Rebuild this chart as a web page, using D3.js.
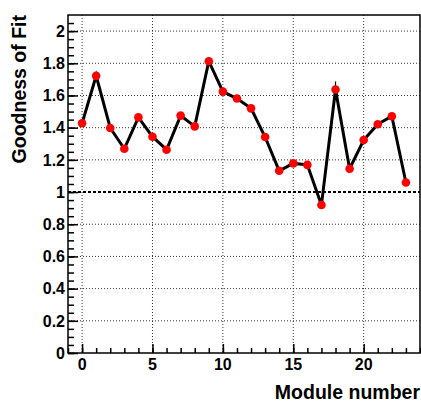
<!DOCTYPE html>
<html>
<head>
<meta charset="utf-8">
<script src="https://cdn.jsdelivr.net/npm/d3@7"></script>
<style>
  body { margin: 0; background: #fff; }
  svg { display: block; }
</style>
</head>
<body>
<div id="gof"></div>
<script>
// data
var modules = [0, 1, 2, 3, 4, 5, 6, 7, 8, 9, 10, 11, 12, 13, 14, 15, 16, 17, 18, 19, 20, 21, 22, 23];
var fitValues = [1.427, 1.722, 1.398, 1.269, 1.464, 1.344, 1.263, 1.475, 1.408, 1.813, 1.624, 1.581,
                 1.520, 1.342, 1.132, 1.178, 1.169, 0.920, 1.637, 1.145, 1.323, 1.421, 1.471, 1.059];
var fitErrors = [0.02, 0.02, 0.02, 0.02, 0.02, 0.02, 0.02, 0.02, 0.02, 0.02, 0.02, 0.02,
                 0.02, 0.02, 0.02, 0.02, 0.02, 0.02, 0.05, 0.02, 0.02, 0.02, 0.02, 0.02];
var xTicks = [0, 5, 10, 15, 20];
var yTicks = [0, 0.2, 0.4, 0.6, 0.8, 1, 1.2, 1.4, 1.6, 1.8, 2];

// set the dimensions and margins of the graph
var W = 421, H = 403;
var margin = { top: 15, right: 1, bottom: 50, left: 68 },
    width = W - margin.left - margin.right,
    height = H - margin.top - margin.bottom;

var svg = d3.select("#gof")
    .append("svg")
    .attr("width", W)
    .attr("height", H)
    .append("g")
    .attr("transform", "translate(" + margin.left + "," + margin.top + ")");

var font = "'Liberation Sans', Arial, Helvetica, sans-serif";

var x = d3.scaleLinear().domain([-1, 24]).range([0, width]);
var y = d3.scaleLinear().domain([0, 2.1]).range([height, 0]);

// grid
svg.append("g")
    .selectAll("line")
    .data(xTicks)
    .enter().append("line")
    .attr("x1", function (d) { return x(d); })
    .attr("x2", function (d) { return x(d); })
    .attr("y1", 0)
    .attr("y2", height)
    .attr("stroke", "#333")
    .attr("stroke-width", 1)
    .attr("stroke-dasharray", "1,2");

svg.append("g")
    .selectAll("line")
    .data(yTicks.filter(function (d) { return d > 0 && d !== 1; }))
    .enter().append("line")
    .attr("x1", 0)
    .attr("x2", width)
    .attr("y1", function (d) { return y(d); })
    .attr("y2", function (d) { return y(d); })
    .attr("stroke", "#333")
    .attr("stroke-width", 1)
    .attr("stroke-dasharray", "1,2");

// dashed reference line at 1
svg.append("line")
    .attr("x1", 0)
    .attr("x2", width)
    .attr("y1", y(1))
    .attr("y2", y(1))
    .attr("stroke", "#000")
    .attr("stroke-width", 2)
    .attr("stroke-dasharray", "3,2");

// frame
svg.append("rect")
    .attr("x", 0)
    .attr("y", 0)
    .attr("width", width)
    .attr("height", height)
    .attr("fill", "none")
    .attr("stroke", "#000")
    .attr("stroke-width", 1.5);

// Y axis (ticks pointing inside)
var yAxis = svg.append("g")
    .call(d3.axisRight(y).tickValues(yTicks).tickSize(10).tickFormat(""));
yAxis.select(".domain").remove();
yAxis.selectAll("line").attr("stroke-width", 1.5);

svg.append("g")
    .call(d3.axisRight(y).tickValues(d3.range(0, 2.1, 0.05)).tickSize(6).tickFormat(""))
    .call(function (g) { g.select(".domain").remove(); })
    .selectAll("line").attr("stroke-width", 1.5);

svg.append("g")
    .selectAll("text")
    .data(yTicks)
    .enter().append("text")
    .attr("x", -3)
    .attr("y", function (d) { return y(d); })
    .attr("dy", "0.36em")
    .attr("text-anchor", "end")
    .style("font-family", font)
    .style("font-weight", "bold")
    .style("font-size", "16px")
    .text(function (d) { return d3.format("")(+d.toFixed(1)); });

// X axis (ticks pointing up)
var xAxis = svg.append("g")
    .attr("transform", "translate(0," + height + ")")
    .call(d3.axisTop(x).tickValues(xTicks).tickSize(9).tickFormat(""));
xAxis.select(".domain").remove();
xAxis.selectAll("line").attr("stroke-width", 1.5);

svg.append("g")
    .attr("transform", "translate(0," + height + ")")
    .call(d3.axisTop(x).tickValues(d3.range(-1, 25, 1)).tickSize(5).tickFormat(""))
    .call(function (g) { g.select(".domain").remove(); })
    .selectAll("line").attr("stroke-width", 1.5);

svg.append("g")
    .selectAll("text")
    .data(xTicks)
    .enter().append("text")
    .attr("x", function (d) { return x(d); })
    .attr("y", height + 17)
    .attr("text-anchor", "middle")
    .style("font-family", font)
    .style("font-weight", "bold")
    .style("font-size", "16px")
    .text(function (d) { return d; });

// axis titles
svg.append("text")
    .text("Module number")
    .attr("x", width)
    .attr("y", height + 46)
    .attr("text-anchor", "end")
    .style("font-family", font)
    .style("font-weight", "bold")
    .style("font-size", "19.5px");

svg.append("text")
    .text("Goodness of Fit")
    .attr("transform", "translate(" + (-42) + ",0) rotate(-90)")
    .attr("x", 0)
    .attr("y", 0)
    .attr("text-anchor", "end")
    .style("font-family", font)
    .style("font-weight", "bold")
    .style("font-size", "19.5px");

// error bars
svg.append("g")
    .selectAll("line")
    .data(modules)
    .enter().append("line")
    .attr("x1", function (d) { return x(d); })
    .attr("x2", function (d) { return x(d); })
    .attr("y1", function (d, i) { return y(fitValues[i] - fitErrors[i]); })
    .attr("y2", function (d, i) { return y(fitValues[i] + fitErrors[i]); })
    .attr("stroke", "#000")
    .attr("stroke-width", 1.2);

// the curve
var line = d3.line()
    .x(function (d) { return x(d); })
    .y(function (d, i) { return y(fitValues[i]); });

svg.append("path")
    .datum(modules)
    .attr("d", line)
    .attr("fill", "none")
    .attr("stroke", "#000")
    .attr("stroke-width", 3)
    .attr("stroke-linejoin", "miter");

// markers
svg.append("g")
    .selectAll("circle")
    .data(modules)
    .enter().append("circle")
    .attr("cx", function (d) { return x(d); })
    .attr("cy", function (d, i) { return y(fitValues[i]); })
    .attr("r", 4.3)
    .attr("fill", "#ff0000");
</script>
</body>
</html>
